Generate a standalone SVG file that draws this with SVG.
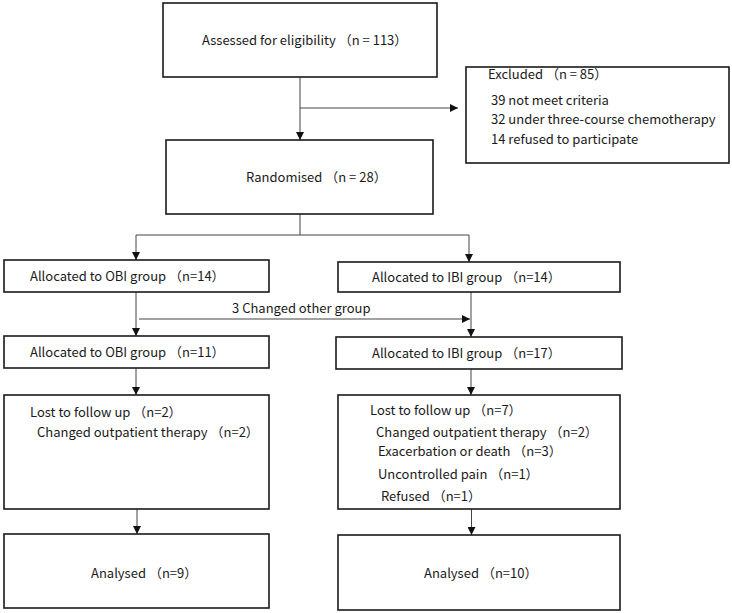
<svg xmlns="http://www.w3.org/2000/svg" width="732" height="613" viewBox="0 0 732 613">
<style>
.box{fill:#fff;stroke:#1a1a1a;stroke-width:1.6}
.ln{fill:none;stroke:#444;stroke-width:1}
text{font-family:"Noto Sans CJK JP","Noto Sans",sans-serif;font-size:13px;fill:#1a1a1a}
</style>
<defs>
<marker id="ah" viewBox="0 0 10 10" refX="10" refY="5" markerWidth="8" markerHeight="8" markerUnits="userSpaceOnUse" orient="auto">
<path d="M0,0 L10,5 L0,10 z" fill="#111"/>
</marker>
</defs>
<rect width="732" height="613" fill="#fff"/>
<g id="connectors">
<path class="ln" d="M300,77 V140" marker-end="url(#ah)"/>
<path class="ln" d="M300,108 H458" marker-end="url(#ah)"/>
<path class="ln" d="M300,214 V235 H136 V260"  marker-end="url(#ah)"/>
<path class="ln" d="M300,235 H469 V262" marker-end="url(#ah)"/>
<path class="ln" d="M136,292 V336" marker-end="url(#ah)"/>
<path class="ln" d="M471,292 V337" marker-end="url(#ah)"/>
<path class="ln" d="M139,319 H470" marker-end="url(#ah)"/>
<path class="ln" d="M136,368 V395" marker-end="url(#ah)"/>
<path class="ln" d="M471,369 V395" marker-end="url(#ah)"/>
<path class="ln" d="M137,509 V534" marker-end="url(#ah)"/>
<path class="ln" d="M471.5,509 V535" marker-end="url(#ah)"/>
</g>
<g id="assessed">
<rect class="box" x="163" y="3" width="274" height="74"/>
<text x="202" y="45">Assessed for eligibility （n = 113）</text>
</g>
<g id="excluded">
<rect class="box" x="466" y="67" width="263" height="96"/>
<text x="488" y="79">Excluded （n = 85）</text>
<text x="491" y="105">39 not meet criteria</text>
<text x="491" y="124">32 under three-course chemotherapy</text>
<text x="491" y="144">14 refused to participate</text>
</g>
<g id="randomised">
<rect class="box" x="166" y="140" width="267" height="74"/>
<text x="246" y="182">Randomised （n = 28）</text>
</g>
<text x="232" y="313">3 Changed other group</text>
<g id="obi1">
<rect class="box" x="4" y="260" width="265" height="32"/>
<text x="30" y="281">Allocated to OBI group （n=14）</text>
</g>
<g id="ibi1">
<rect class="box" x="338" y="262" width="282" height="30"/>
<text x="372" y="282">Allocated to IBI group （n=14）</text>
</g>
<g id="obi2">
<rect class="box" x="4" y="336" width="265" height="32"/>
<text x="30" y="357">Allocated to OBI group （n=11）</text>
</g>
<g id="ibi2">
<rect class="box" x="336" y="337" width="286" height="32"/>
<text x="372" y="358">Allocated to IBI group （n=17）</text>
</g>
<g id="obi3">
<rect class="box" x="4" y="395" width="265" height="114"/>
<text x="30" y="417">Lost to follow up （n=2）</text>
<text x="37" y="437">Changed outpatient therapy （n=2）</text>
</g>
<g id="ibi3">
<rect class="box" x="338" y="395" width="282" height="114"/>
<text x="370" y="415">Lost to follow up （n=7）</text>
<text x="376" y="437">Changed outpatient therapy （n=2）</text>
<text x="378" y="456">Exacerbation or death （n=3）</text>
<text x="378" y="479">Uncontrolled pain （n=1）</text>
<text x="381" y="501">Refused （n=1）</text>
</g>
<g id="obi4">
<rect class="box" x="4" y="534" width="265" height="74"/>
<text x="91" y="578">Analysed （n=9）</text>
</g>
<g id="ibi4">
<rect class="box" x="338" y="535" width="282" height="75"/>
<text x="424" y="578">Analysed （n=10）</text>
</g>
</svg>
